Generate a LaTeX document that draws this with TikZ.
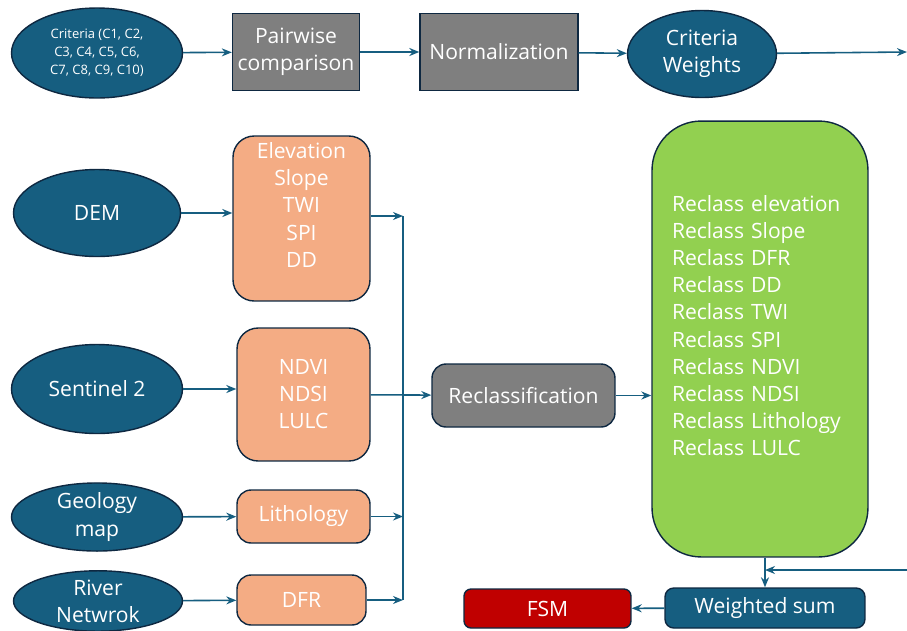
\documentclass[tikz,border=0pt]{standalone}
\usepackage{fontspec}
\setmainfont{Open Sans}
\usetikzlibrary{positioning, arrows.meta, calc, shapes.geometric}
\definecolor{inblue}{RGB}{22,94,128}
\definecolor{edgeblue}{RGB}{14,40,65}
\definecolor{procgray}{RGB}{127,127,127}
\definecolor{layersalmon}{RGB}{244,172,132}
\definecolor{reclgreen}{RGB}{146,208,80}
\definecolor{fsmred}{RGB}{192,0,0}

\begin{document}
\begin{tikzpicture}[x=0.02cm,y=-0.02cm,>={Stealth[length=2mm,width=1.6mm]},
  every node/.style={font=\fontsize{12}{15.4}\selectfont,text=white,align=center,inner sep=1pt},
  src/.style={ellipse,draw=edgeblue,line width=0.8pt,fill=inblue},
  proc/.style={draw=edgeblue,line width=0.8pt,fill=procgray},
  lyr/.style={draw=edgeblue,line width=0.8pt,rounded corners=8pt,fill=layersalmon},
  link/.style={draw=inblue,line width=0.9pt}]
  \useasboundingbox (0,0) rectangle (907,630);

  % weighting chain
  \node[src,minimum width=3.42cm,minimum height=1.8cm,font=\fontsize{7.4}{10.2}\selectfont](crit) at (97,53){Criteria (C1, C2,\\C3, C4, C5, C6,\\C7, C8, C9, C10)};
  \node[proc,minimum width=2.54cm,minimum height=1.54cm](pair) at (296,52){Pairwise\\comparison};
  \node[proc,minimum width=3.16cm,minimum height=1.54cm](norm) at (499,52){Normalization};
  \node[src,minimum width=2.98cm,minimum height=1.74cm](cw) at (702,54){Criteria\\Weights};
  \coordinate (edgetop) at (907,52);

  % input data
  \node[src,minimum width=3.34cm,minimum height=1.74cm](dem) at (97,213){DEM};
  \node[src,minimum width=3.42cm,minimum height=1.78cm](sent) at (97,389){Sentinel 2};
  \node[src,minimum width=3.42cm,minimum height=1.06cm,inner sep=0pt](geo) at (97,517){Geology\\map};
  \node[src,minimum width=3.38cm,minimum height=1.04cm,inner sep=0pt](riv) at (98,601){River\\Netwrok};

  % derived layers
  \node[lyr,minimum width=2.74cm,minimum height=3.3cm,rounded corners=12pt](elev) at (301.5,218.5){Elevation\\Slope\\TWI\\SPI\\DD\\~};
  \node[lyr,minimum width=2.66cm,minimum height=2.66cm,rounded corners=12pt](ndvi) at (303.5,394.5){NDVI\\NDSI\\LULC};
  \node[lyr,minimum width=2.66cm,minimum height=1.06cm](lith) at (303.5,516.5){Lithology};
  \node[lyr,minimum width=2.58cm,minimum height=1.0cm](dfr) at (301.5,600){DFR};

  % reclassification and overlay
  \node[proc,rounded corners=8pt,minimum width=3.66cm,minimum height=1.26cm](recl) at (523.5,395.5){Reclassification};
  \node[draw=edgeblue,line width=0.8pt,fill=reclgreen,rounded corners=28pt,minimum width=4.32cm,minimum height=8.72cm,text width=3.52cm,align=left](rgrid) at (760,339){Reclass elevation\\Reclass Slope\\Reclass DFR\\Reclass DD\\Reclass TWI\\Reclass SPI\\Reclass NDVI\\Reclass NDSI\\Reclass Lithology\\Reclass LULC\\~};
  \node[draw=edgeblue,line width=0.8pt,fill=inblue,rounded corners=5pt,minimum width=4.0cm,minimum height=0.8cm](wsum) at (765,608){Weighted sum};
  \node[draw=edgeblue,line width=0.8pt,fill=fsmred,rounded corners=4pt,minimum width=3.34cm,minimum height=0.78cm](fsm) at (547.5,608.5){FSM};
  \coordinate (edgebot) at (907,570);

  % bus
  \coordinate (bustop) at (403,216);
  \coordinate (busbot) at (403,600);

  \draw[link,->](crit)--(pair);
  \draw[link,->](pair)--(norm);
  \draw[link,->](norm)--(cw);
  \draw[link,->](cw)--(edgetop);
  \draw[link,->](dem)--(elev.west |- dem);
  \draw[link,->](sent.east)--(ndvi.west |- sent.east);
  \draw[link,->](geo)--(lith);
  \draw[link,->](riv)--(dfr);
  \draw[link](bustop)--(busbot);
  \draw[link,->](elev.east |- bustop)--(bustop);
  \draw[link,->](lith)--(lith -| bustop);
  \draw[link,->](dfr)--(busbot);
  \draw[link,->](ndvi)--(recl);
  \draw[link,->](recl)--(rgrid.west |- recl);
  \draw[link,->](wsum.north |- rgrid.south)--(wsum.north);
  \draw[link,->](edgebot)--(wsum.north |- edgebot);
  \draw[link,->](wsum)--(fsm);
\end{tikzpicture}
\end{document}
